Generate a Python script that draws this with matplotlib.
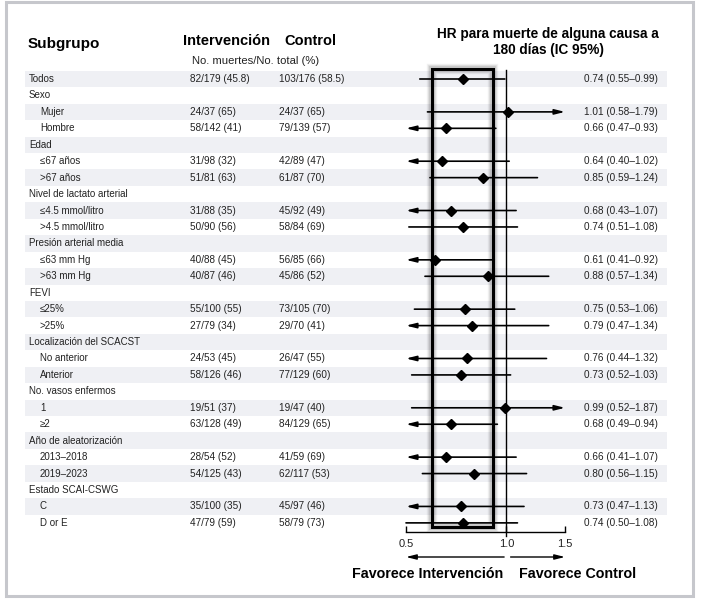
import matplotlib
matplotlib.use("Agg")
import matplotlib.pyplot as plt
from matplotlib.patches import Rectangle
from matplotlib.ticker import FixedLocator, FixedFormatter, NullLocator

# ---------------- data ----------------
labels = ["Todos", "Sexo", "Mujer", "Hombre", "Edad", "≤67 años", ">67 años",
          "Nivel de lactato arterial", "≤4.5 mmol/litro", ">4.5 mmol/litro",
          "Presión arterial media", "≤63 mm Hg", ">63 mm Hg", "FEVI", "≤25%", ">25%",
          "Localización del SCACST", "No anterior", "Anterior", "No. vasos enfermos",
          "1", "≥2", "Año de aleatorización", "2013–2018", "2019–2023",
          "Estado SCAI-CSWG", "C", "D or E"]
is_header = [False, True, False, False, True, False, False, True, False, False,
             True, False, False, True, False, False, True, False, False, True,
             False, False, True, False, False, True, False, False]
interv = ["82/179 (45.8)", "", "24/37 (65)", "58/142 (41)", "", "31/98 (32)", "51/81 (63)",
          "", "31/88 (35)", "50/90 (56)", "", "40/88 (45)", "40/87 (46)", "",
          "55/100 (55)", "27/79 (34)", "", "24/53 (45)", "58/126 (46)", "",
          "19/51 (37)", "63/128 (49)", "", "28/54 (52)", "54/125 (43)", "",
          "35/100 (35)", "47/79 (59)"]
control = ["103/176 (58.5)", "", "24/37 (65)", "79/139 (57)", "", "42/89 (47)", "61/87 (70)",
           "", "45/92 (49)", "58/84 (69)", "", "56/85 (66)", "45/86 (52)", "",
           "73/105 (70)", "29/70 (41)", "", "26/47 (55)", "77/129 (60)", "",
           "19/47 (40)", "84/129 (65)", "", "41/59 (69)", "62/117 (53)", "",
           "45/97 (46)", "58/79 (73)"]
hr = [0.74, None, 1.01, 0.66, None, 0.64, 0.85, None, 0.68, 0.74, None, 0.61, 0.88, None,
      0.75, 0.79, None, 0.76, 0.73, None, 0.99, 0.68, None, 0.66, 0.80, None, 0.73, 0.74]
lo = [0.55, None, 0.58, 0.47, None, 0.40, 0.59, None, 0.43, 0.51, None, 0.41, 0.57, None,
      0.53, 0.47, None, 0.44, 0.52, None, 0.52, 0.49, None, 0.41, 0.56, None, 0.47, 0.50]
hi = [0.99, None, 1.79, 0.93, None, 1.02, 1.24, None, 1.07, 1.08, None, 0.92, 1.34, None,
      1.06, 1.34, None, 1.32, 1.03, None, 1.87, 0.94, None, 1.07, 1.15, None, 1.13, 1.08]
xticks = [0.5, 1.0, 1.5]
xtick_labels = ["0.5", "1.0", "1.5"]
highlight = (0.60, 0.915)

# ---------------- layout ----------------
W, H = 707, 603
fig = plt.figure(figsize=(W / 100, H / 100), dpi=100)
fig.patch.set_facecolor("white")
SANS = ["Liberation Sans", "DejaVu Sans"]
TXT = "#222222"

bg = fig.add_axes([0, 0, 1, 1])
bg.set_xlim(0, W)
bg.set_ylim(H, 0)
bg.axis("off")

ROW0, ROWH = 79, 16.44
AX_TOP, AX_BOT = 60, 532
X05, X15 = 406, 565

def rowy(i):
    return ROW0 + i * ROWH

# outer frame
bg.add_patch(Rectangle((6, 2), 687, 594, fill=False, ec="#c6c7cc", lw=2.2))

# stripes
for i in range(len(labels)):
    if i % 2 == 0:
        bg.add_patch(Rectangle((25, rowy(i) - ROWH / 2), 642, ROWH,
                               fc="#eff0f4", ec="none", zorder=0))

# headers
bg.text(28, 44, "Subgrupo", fontsize=11, fontweight="bold", family=SANS,
        va="center", ha="left", color="black")
bg.text(183, 41, "Intervención", fontsize=10.5, fontweight="bold", family=SANS,
        va="center", ha="left", color="black")
bg.text(284, 41, "Control", fontsize=10.5, fontweight="bold", family=SANS,
        va="center", ha="left", color="black")
bg.text(192, 61, "No. muertes/No. total (%)", fontsize=8.1, family=SANS,
        va="center", ha="left", color=TXT)
bg.text(548, 42, "HR para muerte de alguna causa a\n180 días (IC 95%)", fontsize=9.8,
        fontweight="bold", family=SANS, va="center", ha="center", color="black",
        linespacing=1.25)

# row texts
for i, lab in enumerate(labels):
    y = rowy(i)
    x = 29 if (is_header[i] or i == 0) else 40
    bg.text(x, y, lab, fontsize=7, family=SANS, va="center", ha="left", color=TXT)
    if interv[i]:
        bg.text(190, y, interv[i], fontsize=7.2, family=SANS, va="center", ha="left", color=TXT)
        bg.text(279, y, control[i], fontsize=7.2, family=SANS, va="center", ha="left", color=TXT)
    if hr[i] is not None:
        bg.text(584, y, f"{hr[i]:.2f} ({lo[i]:.2f}–{hi[i]:.2f})", fontsize=7.2,
                family=SANS, va="center", ha="left", color=TXT)

# forest axes
ax = fig.add_axes([X05 / W, 1 - AX_BOT / H, (X15 - X05) / W, (AX_BOT - AX_TOP) / H])
ax.patch.set_alpha(0)
ax.set_xscale("log")
xmin, xmax = xticks[0], xticks[-1]
ax.set_xlim(xmin, xmax)
ax.set_ylim((AX_BOT - ROW0) / ROWH, (AX_TOP - ROW0) / ROWH)
for s in ["top", "left", "right"]:
    ax.spines[s].set_visible(False)
ax.spines["bottom"].set_linewidth(1.0)
ax.yaxis.set_visible(False)
ax.xaxis.set_major_locator(FixedLocator(xticks))
ax.xaxis.set_major_formatter(FixedFormatter(xtick_labels))
ax.xaxis.set_minor_locator(NullLocator())
ax.tick_params(axis="x", direction="in", length=4, width=1.0, pad=5,
               labelsize=8, labelcolor=TXT)
for t in ax.get_xticklabels():
    t.set_family(SANS)

# reference line at 1
yfrac = lambda pix: (AX_BOT - pix) / (AX_BOT - AX_TOP)
ax.plot([1, 1], [yfrac(70), yfrac(536)], transform=ax.get_xaxis_transform(),
        color="black", lw=1.0, clip_on=False, zorder=2)

# highlight rectangle with soft shadow
ry0, ry1 = (69 - ROW0) / ROWH, (527 - ROW0) / ROWH
for lw, a in [(7.5, 0.05), (6, 0.07), (4.5, 0.10)]:
    ax.add_patch(Rectangle((highlight[0], ry0), highlight[1] - highlight[0], ry1 - ry0,
                           fill=False, ec="black", lw=lw, alpha=a, clip_on=False, zorder=1))
ax.add_patch(Rectangle((highlight[0], ry0), highlight[1] - highlight[0], ry1 - ry0,
                       fill=False, ec="black", lw=2.2, clip_on=False, zorder=3))

# CIs and diamonds
HEAD = ",head_length=0.6,head_width=0.15"
for i in range(len(labels)):
    if hr[i] is None:
        continue
    a, b = max(lo[i], xmin), min(hi[i], xmax)
    left_arr, right_arr = lo[i] < xmin, hi[i] > xmax
    if left_arr and right_arr:
        style = "<|-|>" + HEAD
    elif left_arr:
        style = "<|-" + HEAD
    elif right_arr:
        style = "-|>" + HEAD
    else:
        style = "-"
    ax.annotate("", xy=(b, i), xytext=(a, i),
                arrowprops=dict(arrowstyle=style, color="black", lw=1.2,
                                shrinkA=0, shrinkB=0, mutation_scale=10),
                annotation_clip=False, zorder=4)
    ax.plot(hr[i], i, marker="D", ms=5.3, color="black", zorder=5, clip_on=False)

# favour arrows
tr = ax.get_xaxis_transform()
ay = yfrac(557)
for x_from, x_to in [(0.985, xmin), (1.03, xmax)]:
    ax.annotate("", xy=(x_to, ay), xytext=(x_from, ay), xycoords=tr, textcoords=tr,
                arrowprops=dict(arrowstyle="-|>" + HEAD, color="black",
                                lw=1.0, shrinkA=0, shrinkB=0, mutation_scale=10),
                annotation_clip=False)

bg.text(428, 574, "Favorece Intervención", fontsize=10.3, fontweight="bold", family=SANS,
        va="center", ha="center", color="black")
bg.text(578, 574, "Favorece Control", fontsize=10.3, fontweight="bold", family=SANS,
        va="center", ha="center", color="black")

fig.savefig("out.png", dpi=100)
